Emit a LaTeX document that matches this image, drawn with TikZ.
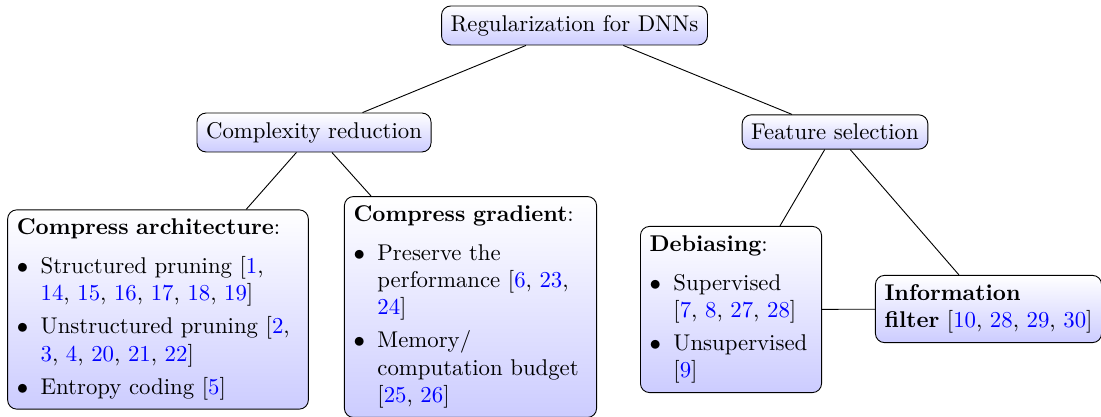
\documentclass[tikz,border=0pt]{standalone}
\usepackage{xcolor}
\newcommand{\rf}[1]{\textcolor{blue}{#1}}
\newenvironment{blist}{\begin{list}{$\bullet$}{%
  \setlength{\leftmargin}{10.5pt}\setlength{\labelsep}{5.5pt}%
  \setlength{\labelwidth}{5pt}\setlength{\topsep}{5pt}%
  \setlength{\partopsep}{0pt}\setlength{\parsep}{0pt}%
  \setlength{\itemsep}{2.5pt}}}{\end{list}}
\tikzset{
  catbox/.style={draw, rounded corners=4pt, top color=white, bottom color=blue!20,
    inner sep=4pt, line width=0.4pt},
  leafbox/.style={catbox, align=left},
  edge/.style={draw, line width=0.4pt}
}
\begin{document}
\begin{tikzpicture}[x=0.43898pt,y=-0.43898pt]
\useasboundingbox (0,0) rectangle (1101,417);
\node[catbox] (root) at (574.5,25.5) {Regularization for DNNs};
\node[catbox] (comp) at (314,132.5) {Complexity reduction};
\node[catbox] (feat) at (835,132) {Feature selection};
\node[leafbox, text width=124pt] (arch) at (158,309.5) {\textbf{Compress architecture}:
\begin{blist}
\item Structured pruning [\rf{1},\newline \rf{14}, \rf{15}, \rf{16}, \rf{17}, \rf{18}, \rf{19}]
\item Unstructured pruning [\rf{2},\newline \rf{3}, \rf{4}, \rf{20}, \rf{21}, \rf{22}]
\item Entropy coding [\rf{5}]
\end{blist}};
\node[leafbox, text width=102.7pt] (grad) at (470.5,307) {\textbf{Compress gradient}:
\begin{blist}
\item Preserve the\newline performance [\rf{6}, \rf{23},\newline \rf{24}]
\item Memory/\newline computation budget\newline [\rf{25}, \rf{26}]
\end{blist}};
\node[leafbox, text width=71.5pt] (deb) at (731,309.5) {\textbf{Debiasing}:
\begin{blist}
\item Supervised\newline [\rf{7}, \rf{8}, \rf{27}, \rf{28}]
\item Unsupervised\newline [\rf{9}]
\end{blist}};
\node[leafbox] (info) at (988.5,309) {\textbf{Information}\\ \textbf{filter} [\rf{10}, \rf{28}, \rf{29}, \rf{30}]};
\path[edge] (root) -- (comp);
\path[edge] (root) -- (feat);
\path[edge] (comp) -- (arch);
\path[edge] (comp) -- (grad);
\path[edge] (feat) -- (deb);
\path[edge] (feat) -- (info);
\path[edge] (deb) -- (info);
\end{tikzpicture}
\end{document}
